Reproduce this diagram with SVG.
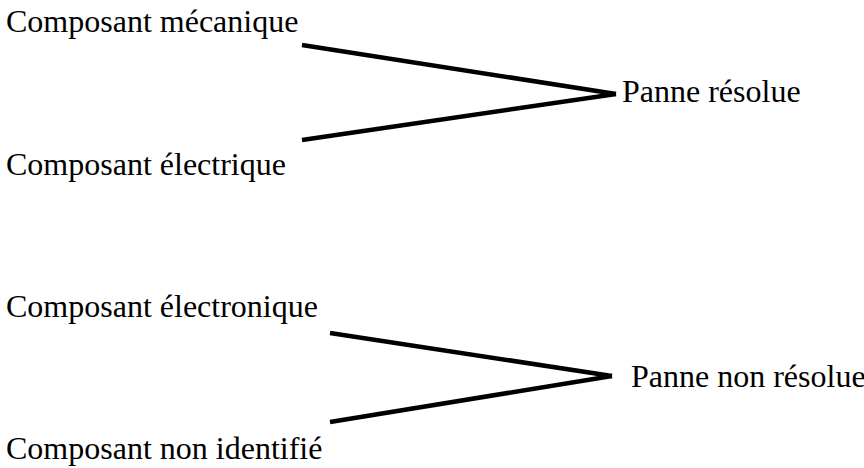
<svg xmlns="http://www.w3.org/2000/svg" width="864" height="468" viewBox="0 0 864 468">
<rect width="864" height="468" fill="#fff"/>
<g id="n1"><text x="6" y="32" font-size="32" font-family="Liberation Serif">Composant mécanique</text></g>
<g id="n2"><text x="6" y="175" font-size="32" font-family="Liberation Serif">Composant électrique</text></g>
<g id="n3"><text x="622" y="102" font-size="32" font-family="Liberation Serif">Panne résolue</text></g>
<g id="n4"><text x="6" y="317" font-size="32" font-family="Liberation Serif">Composant électronique</text></g>
<g id="n5"><text x="6" y="459" font-size="32" font-family="Liberation Serif">Composant non identifié</text></g>
<g id="n6"><text x="631" y="387" font-size="32" font-family="Liberation Serif">Panne non résolue</text></g>
<g id="connectors" stroke="#000" stroke-width="4.5">
<line x1="302" y1="45" x2="616" y2="94"/>
<line x1="302" y1="140" x2="616" y2="94"/>
<line x1="330" y1="333" x2="612" y2="376"/>
<line x1="330" y1="422" x2="612" y2="376"/>
</g>
</svg>
